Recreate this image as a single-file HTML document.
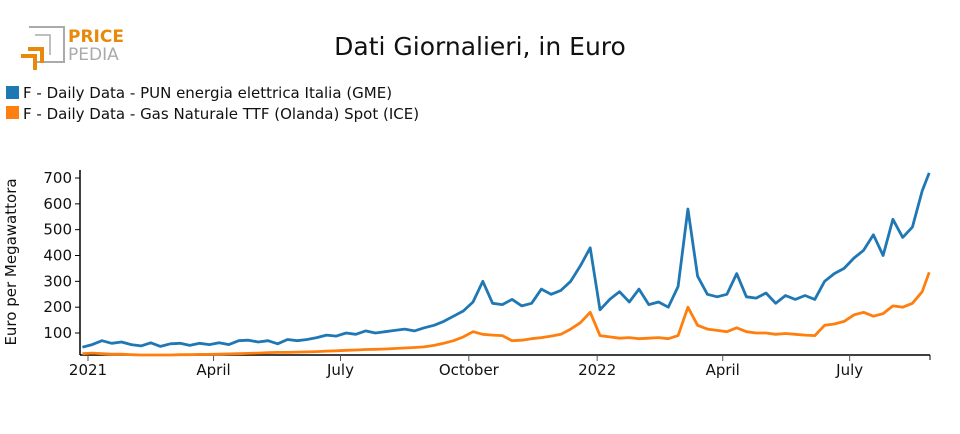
<!DOCTYPE html>
<html><head><meta charset="utf-8"><style>
body{margin:0;background:#fff;width:960px;height:430px;overflow:hidden;font-family:"DejaVu Sans","Liberation Sans",sans-serif}
text{font-family:"DejaVu Sans","Liberation Sans",sans-serif}
</style></head><body>
<svg id="chart" width="960" height="430">
 <g>
  <path d="M29 27 H64 V62 H37" fill="none" stroke="#aaa" stroke-width="2"/>
  <path d="M35 35 H50 V55" fill="none" stroke="#aaa" stroke-width="1.5"/>
  <path d="M21 56 H35 V70" fill="none" stroke="#e8890c" stroke-width="4"/>
  <path d="M28 49 H42 V63" fill="none" stroke="#e8890c" stroke-width="4"/>
  <text x="68" y="42" font-size="17" font-weight="bold" fill="#e8890c">PRICE</text>
  <text x="68" y="60" font-size="17" fill="#aaa">PEDIA</text>
 </g>
 <text x="480" y="55" text-anchor="middle" font-size="25" fill="#111">Dati Giornalieri, in Euro</text>
 <g>
  <g><rect x="6" y="86" width="13" height="13" fill="#1f77b4"/><text x="23" y="98" font-size="15" fill="#111">F - Daily Data - PUN energia elettrica Italia (GME)</text></g>
  <g><rect x="6" y="106" width="13" height="13" fill="#ff7f0e"/><text x="23" y="119" font-size="15" fill="#111">F - Daily Data - Gas Naturale TTF (Olanda) Spot (ICE)</text></g>
 </g>
 <text transform="translate(16,262) rotate(-90)" text-anchor="middle" font-size="15" fill="#111">Euro per Megawattora</text>
 <g id="axes"></g>
 <g id="series"></g>
</svg>
<script>
const yTicks=[100,200,300,400,500,600,700];
const xTickLabels=["2021","April","July","October","2022","April","July"];
const xTickDays=[0,90,181,273,365,455,546];
const pun=[45,55,70,60,65, 55,50,62,48, 58,60,52,60,55, 62,55,70,72, 65,70,58,75,70, 75,82,92,88, 100,95,108,100, 105,110,115,108,120, 130,145,165,185, 220,300,215,210, 230,205,215,270,250, 265,300,360,430, 190,230,260,220,270, 210,220,200,280, 580,320,250,240, 250,330,240,235, 255,215,245,230,245, 230,300,330,350, 390,420,480,400, 540,470,510,650,720];
const ttf=[20,22,20,18,18, 16,15,15,15, 15,16,16,17,17, 18,19,20,21, 22,24,25,25,26, 27,28,30,31, 33,34,36,37, 38,40,42,44,46, 52,60,70,85, 105,95,92,90, 70,72,78,82,88, 95,115,140,180, 90,85,80,82,78, 80,82,78,90, 200,130,115,110, 105,120,105,100, 100,95,98,95,92, 90,130,135,145, 170,180,165,175, 205,200,215,260,335];
const days=[];for(let i=0;i<pun.length;i++)days.push(i*7-4);days[days.length-1]=603;
const X=d=>88+d*1.395;
const Y=v=>333-(v-100)*0.2583;
const NS="http://www.w3.org/2000/svg";
const axes=document.getElementById('axes');
function mk(t,a,p){const e=document.createElementNS(NS,t);for(const k in a)e.setAttribute(k,a[k]);p.appendChild(e);return e;}
const ya=mk('line',{x1:80,y1:170,x2:80,y2:355,stroke:'#000','stroke-width':1.5},axes);


const xa=mk('line',{x1:80,y1:355,x2:930,y2:355,stroke:'#000','stroke-width':1.5},axes);


mk('line',{x1:930,y1:355,x2:930,y2:360,stroke:'#000'},axes);
yTicks.forEach(v=>{
 mk('line',{x1:75,y1:Y(v),x2:80,y2:Y(v),stroke:'#000'},axes);
 const t=mk('text',{x:72,y:Y(v)+5,'text-anchor':'end','font-size':15,fill:'#111'},axes);t.textContent=v;
 
 
});
xTickDays.forEach((d,i)=>{
 mk('line',{x1:X(d),y1:355,x2:X(d),y2:361,stroke:'#555'},axes);
 const t=mk('text',{x:X(d),y:375,'text-anchor':'middle','font-size':15,fill:'#111'},axes);t.textContent=xTickLabels[i];
 
 
});
const sg=document.getElementById('series');
function line(vals,col,name){
 const d=vals.map((v,i)=>(i?'L':'M')+X(days[i]).toFixed(1)+' '+Y(v).toFixed(1)).join(' ');
 const p=mk('path',{d:d,fill:'none',stroke:col,'stroke-width':2.8,'stroke-linejoin':'round'},sg);
 
 
}
line(ttf,'#ff7f0e','ttf-line');
line(pun,'#1f77b4','pun-line');
</script>
</body></html>
